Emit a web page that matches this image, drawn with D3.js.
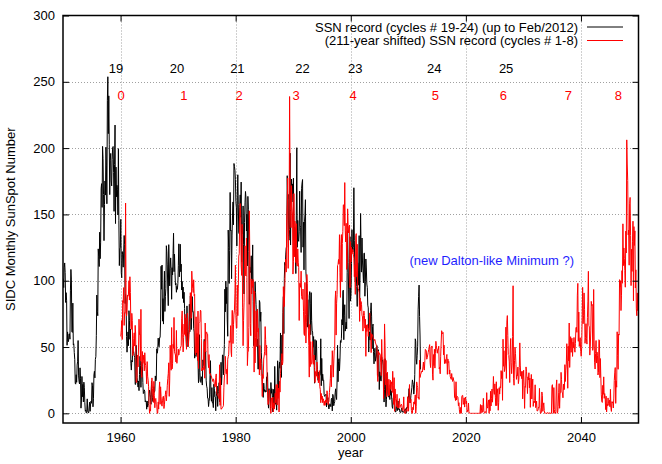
<!DOCTYPE html>
<html><head><meta charset="utf-8">
<script src="https://cdn.jsdelivr.net/npm/d3@7"></script>
<style>
body{margin:0;background:#fff}
svg{display:block}
text{font-family:"Liberation Sans",Arial,Helvetica,sans-serif;font-size:13px}
</style>
</head><body>
<svg id="chart" width="662" height="464"></svg>
<script>
// ---- data ----
const blackStartYear = 1950; // monthly values from Jan 1950 to Feb 2012
const blackSSN = [
101.6,94.8,109.7,113.4,106.2,83.6,91.0,85.2,51.3,61.4,54.8,54.1,
59.9,59.9,55.9,92.9,108.5,100.6,61.5,61.0,83.1,51.6,52.4,45.8,
40.7,22.7,22.0,29.1,23.4,36.4,39.3,54.9,28.2,23.8,22.1,34.3,
26.5,3.9,10.0,27.8,12.5,21.8,8.6,23.5,19.3,8.2,1.6,2.5,
0.2,0.5,10.9,1.8,0.8,0.2,4.8,8.4,1.5,7.0,9.2,7.6,
23.1,20.8,4.9,11.3,28.9,31.7,26.7,40.7,42.7,58.5,89.2,76.9,
73.6,124.0,118.4,110.7,136.6,116.6,129.1,169.6,173.2,155.3,201.3,192.1,
165.0,130.2,157.4,175.2,164.6,200.7,187.2,158.0,235.8,253.8,210.9,239.4,
202.5,164.9,190.7,196.0,175.3,171.5,191.4,200.2,201.2,181.5,152.3,187.6,
217.4,143.1,185.7,163.3,172.0,168.7,149.6,199.6,145.2,111.4,124.0,125.0,
146.3,106.0,102.2,122.0,119.6,110.2,121.7,134.1,127.2,82.8,89.6,85.6,
57.9,46.1,53.0,61.4,51.0,77.4,70.2,55.8,63.6,37.7,32.6,39.9,
38.7,50.3,45.6,46.4,43.7,42.0,21.8,21.8,51.3,39.5,26.9,23.2,
19.8,24.4,17.1,29.3,43.0,35.9,19.6,33.2,38.8,35.3,23.4,14.9,
15.3,17.7,16.5,8.6,9.5,9.1,3.1,9.3,4.7,6.1,7.4,15.1,
17.5,14.2,11.7,6.8,24.1,15.9,11.9,8.9,16.8,20.1,15.8,17.0,
28.2,24.4,25.3,48.7,45.3,47.7,56.7,51.2,50.2,57.2,57.2,70.4,
110.9,93.6,111.8,69.5,86.5,67.3,91.5,107.2,76.8,88.2,94.3,126.4,
121.8,111.9,92.2,81.2,127.2,110.3,96.1,109.3,117.2,107.7,86.0,109.8,
104.4,120.5,135.8,106.8,120.0,106.0,96.8,98.0,91.3,95.7,93.5,97.9,
111.5,127.8,102.9,109.5,127.5,106.8,112.5,93.0,99.5,86.6,95.2,83.5,
91.3,79.0,60.7,71.8,57.5,49.8,81.0,61.4,50.2,51.7,63.2,82.2,
61.5,88.4,80.1,63.2,80.5,88.0,76.5,76.8,64.0,61.3,41.6,45.3,
43.4,42.9,46.0,57.7,42.4,39.5,23.1,25.6,59.3,30.7,23.9,23.3,
27.6,26.0,21.3,40.3,39.5,36.0,55.8,33.6,40.2,47.1,25.0,20.5,
18.9,11.5,11.5,5.1,9.0,11.4,28.2,39.7,13.9,9.1,19.4,7.8,
8.1,4.3,21.9,18.8,12.4,12.2,1.9,16.4,13.5,20.6,5.2,15.3,
16.4,23.1,8.7,12.9,18.6,38.5,21.4,30.1,44.0,43.8,29.1,43.2,
51.9,93.6,76.5,99.7,82.7,95.1,70.4,58.1,138.2,125.1,97.9,122.7,
166.6,137.5,138.0,101.5,134.4,149.5,159.4,142.2,188.4,186.2,183.3,176.3,
159.6,155.0,126.2,164.1,179.9,157.3,136.3,135.4,155.0,164.7,147.9,174.4,
114.0,141.3,135.5,156.4,127.5,90.0,143.8,158.7,167.3,162.4,137.5,150.1,
111.2,163.6,153.8,122.0,82.2,110.4,106.1,107.6,118.8,94.7,98.1,127.0,
84.3,51.0,66.5,80.7,99.2,91.1,82.2,71.8,50.3,55.8,33.3,33.4,
57.0,85.1,83.5,69.4,76.4,46.1,37.4,25.5,15.7,12.0,22.8,18.7,
16.5,15.9,17.2,16.2,27.5,24.2,30.7,11.1,3.9,18.6,16.2,17.3,
2.5,23.2,15.1,18.5,13.7,1.1,18.1,7.4,3.8,35.4,15.2,6.8,
10.4,2.4,14.7,39.6,33.0,17.4,33.9,38.7,33.9,60.6,39.9,27.1,
59.0,40.0,76.2,88.0,60.1,101.8,113.8,111.6,120.1,125.1,125.1,179.2,
161.3,165.1,131.4,130.6,138.5,196.2,126.9,168.9,176.7,159.4,173.0,165.5,
177.3,130.5,140.3,140.3,132.2,105.4,149.4,200.3,125.2,145.5,131.4,129.7,
136.9,167.5,141.9,140.0,121.3,169.7,173.7,176.3,125.3,144.1,108.2,144.4,
150.0,161.1,106.7,99.8,73.8,65.2,85.7,64.5,63.9,88.7,91.8,82.6,
59.3,91.0,69.8,62.2,61.3,49.8,57.9,42.4,22.7,55.6,40.3,46.1,
54.8,38.6,33.0,24.9,24.8,31.1,28.3,28.4,29.7,56.2,20.8,41.4,
24.6,29.5,25.2,25.1,14.1,12.8,13.5,13.8,14.4,4.8,11.9,10.4,
11.8,5.5,3.3,5.6,7.2,6.7,5.0,10.5,11.4,1.8,14.3,13.0,
5.7,7.6,8.7,15.5,18.5,12.7,10.4,24.4,51.3,23.8,39.0,41.2,
31.9,40.3,54.8,53.4,56.3,70.7,66.6,92.2,92.9,55.5,74.0,81.9,
62.0,66.3,68.8,63.7,106.4,137.7,113.5,93.7,71.5,116.7,133.2,84.6,
90.1,112.9,138.5,125.5,121.6,124.9,170.1,130.5,109.7,99.4,106.8,104.4,
95.6,80.6,113.5,107.7,96.6,134.0,81.8,106.4,150.7,125.5,106.5,132.2,
114.1,107.4,98.4,120.7,120.8,88.3,99.6,116.4,109.6,97.5,95.0,81.6,
79.5,46.2,61.5,60.0,55.2,77.4,83.3,72.7,48.7,65.5,67.3,46.5,
37.3,45.8,49.1,39.3,41.5,43.2,51.1,40.9,27.7,48.0,43.5,17.9,
31.3,29.2,24.5,24.4,42.6,39.6,39.9,36.4,22.1,8.5,18.0,41.2,
15.3,4.9,10.6,30.2,22.3,13.9,12.2,12.9,14.4,10.4,21.5,13.6,
16.9,10.6,4.8,3.7,11.7,12.0,10.0,6.2,2.4,0.9,1.7,10.1,
3.4,2.1,9.3,2.9,3.2,3.4,0.8,0.5,1.1,2.9,4.1,0.8,
1.5,1.4,0.7,1.2,2.9,2.6,3.5,0.0,4.4,4.6,4.2,10.6,
13.1,18.6,15.4,7.9,8.8,13.5,16.1,19.6,25.2,23.5,21.6,14.5,
19.0,29.4,56.2,54.4,41.6,37.0,43.8,50.6,78.0,88.0,96.7,73.0,
58.3,33.1
];

const redStartYear = 1749; // monthly values, cycles 1-8, shifted by 211 years
const redShiftYears = 211;
const redSSN = [
58.0,62.6,70.0,55.7,85.0,83.5,94.8,66.3,75.9,75.5,158.6,85.2,
73.3,75.9,89.2,88.3,90.0,100.0,85.4,103.0,91.2,65.7,63.3,75.4,
70.0,43.5,45.3,56.4,60.7,50.7,66.3,59.8,23.5,23.2,28.5,44.0,
35.0,50.0,71.0,59.3,59.7,39.6,78.4,29.3,27.1,46.6,37.6,40.0,
44.0,32.0,45.7,38.0,36.0,31.7,22.2,39.0,28.0,25.0,20.0,6.7,
0.0,3.0,1.7,13.7,20.7,26.7,18.8,12.3,8.2,24.1,13.2,4.2,
10.2,11.2,6.8,6.5,0.0,0.0,8.6,3.2,17.8,23.7,6.8,20.0,
12.5,7.1,5.4,9.4,12.5,12.9,3.6,6.4,11.8,14.3,17.0,9.4,
14.1,21.2,26.2,30.0,38.1,12.8,25.0,51.3,39.7,32.5,64.7,33.5,
37.6,52.0,49.0,72.3,46.4,45.0,44.0,38.7,62.5,37.7,43.0,43.0,
48.3,44.0,46.8,47.0,49.0,50.0,51.0,71.3,77.2,59.7,46.3,57.0,
67.3,59.5,74.7,58.3,72.0,48.3,66.0,75.6,61.3,50.6,59.7,61.0,
70.0,91.0,80.7,71.7,107.2,99.3,94.1,91.1,100.7,88.7,89.7,46.0,
43.8,72.8,45.7,60.2,39.9,77.1,33.8,67.7,68.5,69.3,77.8,77.2,
56.5,31.9,34.2,32.9,32.7,35.8,54.2,26.5,68.1,46.3,60.9,61.4,
59.7,59.7,40.2,34.4,44.3,30.0,30.0,30.0,28.2,28.0,26.0,25.7,
24.0,26.0,25.0,22.0,20.2,20.0,27.0,29.7,16.0,14.0,14.0,13.0,
12.0,11.0,36.6,6.0,26.8,3.0,3.3,4.0,4.3,5.0,5.7,19.2,
27.4,30.0,43.0,32.9,29.8,33.3,21.9,40.8,42.7,44.1,54.7,53.3,
53.5,66.1,46.3,42.7,77.7,77.4,52.6,66.8,74.8,77.8,90.6,111.8,
73.9,64.2,64.3,96.7,73.6,94.4,118.6,120.3,148.8,158.2,148.1,112.0,
104.0,142.5,80.1,51.0,70.1,83.3,109.8,126.3,104.4,103.6,132.2,102.3,
36.0,46.2,46.7,64.9,152.7,119.5,67.7,58.5,101.4,90.0,99.7,95.7,
100.9,90.8,31.1,92.2,38.0,57.0,77.3,56.2,50.5,78.6,61.3,64.0,
54.6,29.0,51.2,32.9,41.1,28.4,27.7,12.7,29.3,26.3,40.9,43.2,
46.8,65.4,55.7,43.8,51.3,28.5,17.5,6.6,7.9,14.0,17.7,12.2,
4.4,0.0,11.6,11.2,3.9,12.3,1.0,7.9,3.2,5.6,15.1,7.9,
21.7,11.6,6.3,21.8,11.2,19.0,1.0,24.2,16.0,30.0,35.0,40.0,
45.0,36.5,39.0,95.5,80.3,80.7,95.0,112.0,116.2,106.5,146.0,157.3,
177.3,109.3,134.0,145.0,238.9,171.6,153.0,140.0,171.7,156.3,150.3,105.0,
114.7,165.7,118.0,145.0,140.0,113.7,143.0,112.0,111.0,124.0,114.0,110.0,
70.0,98.0,98.0,95.0,107.2,88.0,86.0,86.0,93.7,77.0,60.0,58.7,
98.7,74.7,53.0,68.3,104.7,97.7,73.5,66.0,51.0,27.3,67.0,35.2,
54.0,37.5,37.0,41.0,54.3,38.0,37.0,44.0,34.0,23.2,31.5,30.0,
28.0,38.7,26.7,28.3,23.0,25.2,32.2,20.0,18.0,8.0,15.0,10.5,
13.0,8.0,11.0,10.0,6.0,9.0,6.0,10.0,10.0,8.0,17.0,14.0,
6.5,8.0,9.0,15.7,20.7,26.3,36.3,20.0,32.0,47.2,40.2,27.3,
37.2,47.6,47.7,85.4,92.3,59.0,83.0,89.7,111.5,112.3,116.0,112.7,
134.7,106.0,87.4,127.2,134.8,99.2,128.0,137.2,157.3,157.0,141.5,174.0,
138.0,129.2,143.3,108.5,113.0,154.2,141.5,136.0,141.0,142.0,94.7,129.5,
114.0,125.3,120.0,123.3,123.5,120.0,117.0,103.0,112.0,89.7,134.0,135.5,
103.0,127.5,96.3,94.0,93.0,91.0,69.3,87.0,77.3,84.3,82.0,74.0,
72.7,62.0,74.0,77.2,73.7,64.2,71.0,43.0,66.5,61.7,67.0,66.0,
58.0,64.0,63.0,75.7,62.0,61.0,45.8,60.0,59.0,59.0,57.0,56.0,
56.0,55.0,55.5,53.0,52.3,51.0,50.0,29.3,24.0,47.0,44.0,45.7,
45.0,44.0,38.0,28.4,55.7,41.5,41.0,40.0,11.1,28.5,67.4,51.4,
21.4,39.9,12.6,18.6,31.0,17.1,12.9,25.7,13.5,19.5,25.0,18.0,
22.0,23.8,15.7,31.7,21.0,6.7,26.9,1.5,18.4,11.0,8.4,5.1,
14.4,4.2,4.0,4.0,7.3,11.1,4.3,6.0,5.7,6.9,5.8,3.0,
2.0,4.0,12.4,1.1,0.0,0.0,0.0,3.0,2.4,1.5,12.5,9.9,
1.6,12.6,21.7,8.4,8.2,10.6,2.1,0.0,0.0,4.6,2.7,8.6,
6.9,9.3,13.9,0.0,5.0,23.7,21.0,19.5,11.5,12.3,10.5,40.1,
27.0,29.0,30.0,31.0,32.0,31.2,35.0,38.7,33.5,32.6,39.8,48.2,
47.8,47.0,40.8,42.0,44.0,46.0,48.0,50.0,51.8,38.5,34.5,50.0,
50.0,50.8,29.5,25.0,44.3,36.0,48.3,34.1,45.3,54.3,51.0,48.0,
45.3,48.3,48.0,50.6,33.4,34.8,29.8,43.1,53.0,62.3,61.0,60.0,
61.0,44.1,51.4,37.5,39.0,40.5,37.6,42.7,44.4,29.4,41.0,38.3,
39.0,29.6,32.7,27.7,26.4,25.6,30.0,26.3,24.0,27.0,25.0,24.0,
12.0,12.2,9.6,23.8,10.0,12.0,12.7,12.0,5.7,8.0,2.6,0.0,
0.0,4.5,0.0,12.3,13.5,13.5,6.7,8.0,11.7,4.7,10.5,12.3,
7.2,9.2,0.9,2.5,2.0,7.7,0.3,0.2,0.4,0.0,0.0,0.0,
0.0,0.0,0.0,0.0,0.0,0.0,0.0,0.0,0.0,0.0,0.0,0.0,
0.0,0.0,0.0,0.0,0.0,0.0,6.6,0.0,2.4,6.1,0.8,1.1,
11.3,1.9,0.7,0.0,1.0,1.3,0.5,15.6,5.2,3.9,7.9,10.1,
0.0,10.3,1.9,16.6,5.5,11.2,18.3,8.4,15.3,27.8,16.7,14.3,
22.2,12.0,5.7,23.8,5.8,14.9,18.5,2.3,8.1,19.3,14.5,20.1,
19.2,32.2,26.2,31.6,9.8,55.9,35.5,47.2,31.5,33.5,37.2,65.0,
26.3,68.8,73.7,58.8,44.3,43.6,38.8,23.2,47.8,56.4,38.1,29.9,
36.4,57.9,96.2,26.4,21.2,40.0,50.0,45.0,36.7,25.6,28.9,28.4,
34.9,22.4,25.4,34.5,53.1,36.4,28.0,31.5,26.1,31.7,10.9,25.8,
32.5,20.7,3.7,20.2,19.6,35.0,31.4,26.1,14.9,27.5,25.1,30.6,
19.2,26.6,4.5,19.4,29.3,10.8,20.6,25.9,5.2,9.0,7.9,9.7,
21.5,4.3,5.7,9.2,1.7,1.8,2.5,4.8,4.4,18.8,4.4,0.0,
0.0,0.9,16.1,13.5,1.5,5.6,7.9,2.1,0.0,0.4,0.0,0.0,
0.0,0.0,0.6,0.0,0.0,0.0,0.5,0.0,0.0,0.0,0.0,20.4,
21.6,10.8,0.0,19.4,2.8,0.0,0.0,1.4,20.5,25.2,0.0,0.8,
5.0,15.5,22.4,3.8,15.4,15.4,30.9,25.4,15.7,15.6,11.7,22.0,
17.7,18.2,36.7,24.0,32.4,37.1,52.5,39.6,18.9,50.6,39.5,68.1,
34.6,47.4,57.8,46.0,56.3,56.7,42.9,53.7,49.6,57.2,48.2,46.1,
52.8,64.4,65.0,61.1,89.1,98.0,54.3,76.4,50.4,54.7,57.0,46.6,
43.0,49.4,72.3,95.0,67.5,73.9,90.8,78.3,52.8,57.2,67.6,56.5,
52.2,72.1,84.6,107.1,66.3,65.1,43.9,50.7,62.1,84.4,81.2,82.1,
47.5,50.1,93.4,54.6,38.1,33.4,45.2,54.9,37.9,46.2,43.5,28.9,
30.9,55.5,55.1,26.9,41.3,26.7,13.9,8.9,8.2,21.1,14.3,27.5,
11.3,14.9,11.8,2.8,12.9,1.0,7.0,5.7,11.6,7.5,5.9,9.9,
4.9,18.1,3.9,1.4,8.8,7.8,8.7,4.0,11.5,24.8,30.5,34.5,
7.5,24.5,19.7,61.5,43.6,33.2,59.8,59.0,100.8,95.2,100.0,77.5,
88.6,107.6,98.1,142.9,111.4,124.7,116.7,107.8,95.1,137.4,120.9,206.2,
188.0,175.6,134.6,138.2,111.7,158.0,162.8,134.0,96.3,123.7,107.0,129.8,
144.9,84.8,140.8,126.6,137.6,94.5,108.2,78.8,73.6,90.8,77.4,79.8
];

const xTickValues = [1960, 1980, 2000, 2020, 2040];
const yTickValues = [0, 50, 100, 150, 200, 250, 300];

const blackCycleLabels = ["19", "20", "21", "22", "23", "24", "25"];
const blackCycleYears  = [1959.2, 1969.8, 1980.3, 1991.6, 2000.8, 2014.5, 2027.0];
const redCycleLabels   = ["0", "1", "2", "3", "4", "5", "6", "7", "8"];
const redCycleYears    = [1960.1, 1971.0, 1980.6, 1990.5, 2000.4, 2014.7, 2026.5, 2037.8, 2046.5];

const seriesNames = ["SSN record (cycles # 19-24) (up to Feb/2012)",
                     "(211-year shifted) SSN record (cycles # 1-8)"];
const seriesColors = ["#000000", "#ff0000"];

// ---- build ----
const W = 662, H = 464;
const m = {left: 63, right: 638.5, top: 15.5, bottom: 423};
const FS = 13;
const svg = d3.select("#chart");
svg.append("rect").attr("width", W).attr("height", H).attr("fill", "#fff");

const x = d3.scaleLinear().domain([1950, 2050]).range([m.left, m.right]);
const y = d3.scaleLinear().domain([-7.3, 300]).range([m.bottom, m.top]);

const blackPts = blackSSN.map((v, i) => [blackStartYear + (i + 0.5) / 12, v]);
const redPts = redSSN.map((v, i) => [redStartYear + redShiftYears + (i + 0.5) / 12, v]);

// grid
const grid = svg.append("g").attr("stroke", "#a0a0a0").attr("stroke-width", 1)
  .attr("stroke-dasharray", "1,2").attr("fill", "none");
xTickValues.forEach(t => grid.append("line")
  .attr("x1", Math.round(x(t)) + 0.5).attr("x2", Math.round(x(t)) + 0.5)
  .attr("y1", m.top).attr("y2", m.bottom));
yTickValues.filter(t => t < 300).forEach(t => grid.append("line")
  .attr("x1", m.left).attr("x2", m.right)
  .attr("y1", Math.round(y(t)) + 0.5).attr("y2", Math.round(y(t)) + 0.5));

// clip
svg.append("clipPath").attr("id", "clip").append("rect")
  .attr("x", m.left).attr("y", m.top).attr("width", m.right - m.left).attr("height", m.bottom - m.top);

const line = d3.line().x(d => x(d[0])).y(d => y(d[1]));
const plot = svg.append("g").attr("clip-path", "url(#clip)");
plot.append("path").datum(blackPts).attr("d", line).attr("fill", "none")
  .attr("stroke", seriesColors[0]).attr("stroke-width", 1).attr("stroke-linejoin", "round");
plot.append("path").datum(redPts).attr("d", line).attr("fill", "none")
  .attr("stroke", seriesColors[1]).attr("stroke-width", 1).attr("stroke-linejoin", "round");

// axes (ticks inside, mirrored)
const tickLen = 6;
const axB = d3.axisBottom(x).tickValues(xTickValues).tickFormat(d3.format("d")).tickSizeInner(-tickLen).tickSizeOuter(0).tickPadding(10);
const axT = d3.axisTop(x).tickValues(xTickValues).tickFormat("").tickSizeInner(-tickLen).tickSizeOuter(0);
const axL = d3.axisLeft(y).tickValues(yTickValues).tickSizeInner(-tickLen).tickSizeOuter(0).tickPadding(8);
const axR = d3.axisRight(y).tickValues(yTickValues).tickFormat("").tickSizeInner(-tickLen).tickSizeOuter(0);

function styleAxis(g) {
  g.select(".domain").remove();
  g.selectAll(".tick line").attr("stroke", "#000").attr("stroke-width", 1);
  g.selectAll(".tick text").attr("fill", "#000").attr("font-size", FS)
    .attr("font-family", '"Liberation Sans",Arial,sans-serif');
}
svg.append("g").attr("transform", `translate(0,${m.bottom})`).call(axB).call(styleAxis);
svg.append("g").attr("transform", `translate(0,${m.top})`).call(axT).call(styleAxis);
svg.append("g").attr("transform", `translate(${m.left},0)`).call(axL).call(styleAxis);
svg.append("g").attr("transform", `translate(${m.right},0)`).call(axR).call(styleAxis);

// border
svg.append("rect").attr("x", m.left).attr("y", m.top)
  .attr("width", m.right - m.left).attr("height", m.bottom - m.top)
  .attr("fill", "none").attr("stroke", "#000").attr("stroke-width", 1.5);

// axis titles
svg.append("text").attr("x", (m.left + m.right) / 2).attr("y", 457)
  .attr("text-anchor", "middle").text("year");
svg.append("text").attr("transform", `translate(15,${(m.top + m.bottom) / 2}) rotate(-90)`)
  .attr("text-anchor", "middle").text("SIDC Monthly SunSpot Number");

// cycle labels
svg.append("g").selectAll("text").data(blackCycleLabels).join("text")
  .attr("x", (d, i) => x(blackCycleYears[i])).attr("y", y(260)).attr("dy", "0.35em")
  .attr("text-anchor", "middle").attr("fill", "#000").text(d => d);
svg.append("g").selectAll("text").data(redCycleLabels).join("text")
  .attr("x", (d, i) => x(redCycleYears[i])).attr("y", y(240)).attr("dy", "0.35em")
  .attr("text-anchor", "middle").attr("fill", "#ff0000").text(d => d);

svg.append("text").attr("x", x(2024.5)).attr("y", y(115)).attr("dy", "0.35em")
  .attr("text-anchor", "middle").attr("fill", "#1f1fff").text("(new Dalton-like Minimum ?)");

// legend
const leg = svg.append("g");
seriesNames.forEach((name, i) => {
  const cy = 27 + i * 13.5;
  leg.append("text").attr("x", 578).attr("y", cy).attr("dy", "0.35em")
    .attr("text-anchor", "end").attr("fill", "#000").text(name);
  leg.append("line").attr("x1", 587).attr("x2", 623).attr("y1", cy).attr("y2", cy)
    .attr("stroke", seriesColors[i]).attr("stroke-width", 1);
});
</script>
</body></html>
